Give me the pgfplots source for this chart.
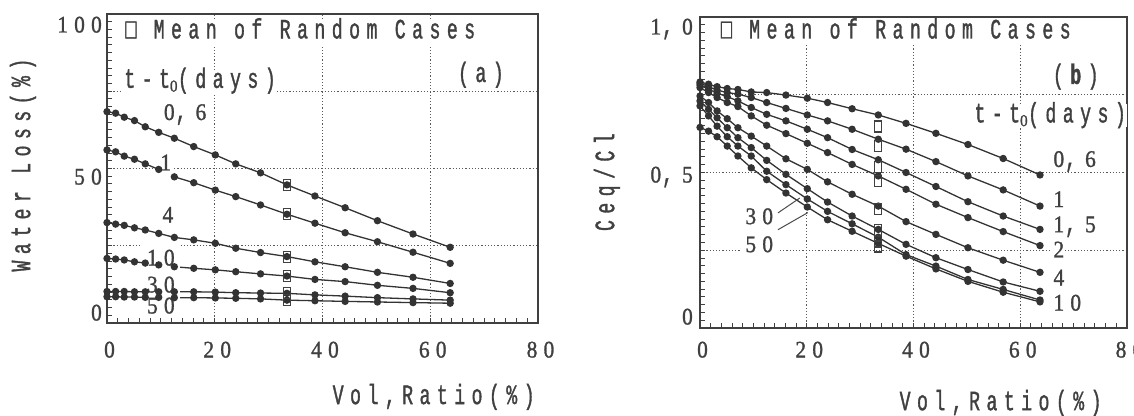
\documentclass[border=0pt]{standalone}
\usepackage{fontspec}
\setmainfont{Liberation Mono}[FakeStretch=0.65,LetterSpace=23,FakeBold=1.2]
\newfontfamily\dg{Liberation Serif}[FakeStretch=0.9,LetterSpace=26,FakeBold=1.2,Scale=0.85]
\usepackage{pgfplots}
\usepackage{pgfplotstable}
\pgfplotsset{compat=1.18}
\newcommand\pf{\fontsize{28bp}{32bp}\selectfont}
\newcommand\cm{\kern1bp{\rmfamily,}\kern9bp}

% (a) water loss (%) against vol. ratio (%)
\pgfplotstableread{
x     s06   s1    s4    s10   s30   s50
0     68.4  56.0  32.5  20.9  10.2  8.5
1.6   67.9  55.4  32.0  20.7  10.2  8.5
3.2   66.6  54.0  31.6  20.4  10.2  8.4
5.1   65.5  53.0  30.8  19.8  10.1  8.4
7.1   63.5  51.5  30.1  19.4  10.1  8.3
9.6   61.7  49.7  29.0  18.8  10.1  8.3
12.5  59.8  47.3  27.7  18.2  10.1  8.2
16.1  57.1  45.4  26.9  17.7  10.1  8.2
20.1  54.4  43.0  25.8  17.2  10.0  8.1
23.9  51.5  40.9  24.2  16.6  9.8   8.0
28.5  48.6  38.2  22.8  15.9  9.7   7.8
33.4  44.7  35.2  21.5  15.2  9.6   7.4
38.6  41.1  32.3  19.8  14.1  9.1   7.2
44.2  37.3  29.2  18.2  13.4  8.7   7.0
50.2  33.1  26.3  16.4  12.2  8.2   6.8
56.8  28.8  22.9  14.8  11.2  7.8   6.6
63.7  24.5  19.3  12.8  9.8   7.4   6.4
}\dataA
\pgfplotstableread{
x     m
33.4  44.7
33.4  35.2
33.4  21.5
33.4  15.2
33.4  9.6
33.4  7.4
}\meanA

% (b) Ceq/Cl against vol. ratio (%)
\pgfplotstableread{
x     s06    s1     s15    s2     s4     s10    s30    s50
0     0.791  0.787  0.781  0.773  0.746  0.730  0.714  0.645
1.6   0.784  0.776  0.768  0.757  0.725  0.703  0.682  0.633
3.2   0.776  0.765  0.755  0.741  0.698  0.676  0.649  0.615
5.1   0.770  0.757  0.744  0.725  0.673  0.644  0.615  0.585
7.1   0.767  0.752  0.730  0.712  0.644  0.612  0.585  0.553
9.6   0.759  0.741  0.709  0.682  0.617  0.580  0.553  0.515
12.5  0.757  0.725  0.687  0.652  0.585  0.539  0.504  0.477
16.1  0.749  0.706  0.666  0.625  0.544  0.494  0.461  0.434
20.1  0.739  0.685  0.639  0.594  0.510  0.448  0.415  0.389
23.9  0.725  0.666  0.612  0.564  0.470  0.405  0.375  0.348
28.5  0.705  0.639  0.574  0.526  0.430  0.360  0.335  0.311
33.4  0.685  0.607  0.541  0.489  0.392  0.317  0.292  0.272
38.6  0.658  0.575  0.500  0.446  0.342  0.269  0.236  0.231
44.2  0.626  0.535  0.455  0.398  0.301  0.226  0.199  0.190
50.2  0.590  0.489  0.406  0.355  0.258  0.188  0.156  0.150
56.8  0.545  0.444  0.360  0.310  0.218  0.148  0.124  0.115
63.7  0.492  0.392  0.317  0.265  0.179  0.118  0.090  0.084
}\dataB
\pgfplotstableread{
x     m
33.4  0.648
33.4  0.585
33.4  0.518
33.4  0.474
33.4  0.384
33.4  0.316
33.4  0.278
33.4  0.262
}\meanB

\pgfplotsset{
  panel/.style={
    scale only axis, clip=false,
    xmin=0, xmax=80, xtick={0,20,40,60,80}, xticklabels={0,20,40,60,80},
    minor x tick num=9, minor y tick num=9,
    tick align=inside, xtick pos=left, ytick pos=left,
    major tick length=4.5bp, minor tick length=4.5bp,
    tick style={black!75, line width=1bp},
    axis line style={black!75, line width=1.5bp},
    xmajorgrids, ymajorgrids,
    major grid style={black!65, line width=1.1bp, dash pattern=on 1.2bp off 2bp},
    ticklabel style={font=\pf\dg, text=black!75, inner sep=0pt},
    xticklabel style={anchor=base, xshift=2.5bp},
    yticklabel style={anchor=east},
    label style={font=\pf, text=black!75},
  },
  ser/.style={black!80, line width=1.3bp, mark=*, mark size=3bp,
    mark options={solid, fill=black!80}},
  sq/.style={only marks, mark=square, mark size=5.5bp,
    mark options={black!75, line width=1.1bp, xscale=0.64}},
}
\tikzset{
  lab/.style={font=\pf, text=black!75, fill=white, inner xsep=1bp, inner ysep=2bp,
    text height=16bp, text depth=3bp},
  rlab/.style={lab, anchor=base west, inner ysep=1bp, text height=15bp, text depth=1bp},
}

\begin{document}
\begin{tikzpicture}
\path[use as bounding box] (0,0) rectangle (1134bp,416bp);

\begin{axis}[panel, at={(107bp,93bp)}, anchor=south west,
  width=431bp, height=309bp,
  ymin=0, ymax=100, ytick={0,25,50,75,100},
  yticklabels={\raisebox{10bp}[15bp][0bp]{0},,\raisebox{-8.5bp}[15bp][0bp]{50},,\raisebox{-11bp}[15bp][0bp]{100}},
  yticklabel style={xshift=-5bp},
  xticklabel style={yshift=-34.5bp},
  xlabel={Vol,Ratio(\%)}, ylabel={Water Loss(\%)},
  xlabel style={at={(axis description cs:0.758,-0.239)}, anchor=center},
  ylabel style={at={(axis description cs:-0.195,0.511)}, anchor=center},
]
\addplot[ser] table[x=x,y=s06]{\dataA};
\addplot[ser] table[x=x,y=s1]{\dataA};
\addplot[ser] table[x=x,y=s4]{\dataA};
\addplot[ser] table[x=x,y=s10]{\dataA};
\addplot[ser] table[x=x,y=s30]{\dataA};
\addplot[ser] table[x=x,y=s50]{\dataA};
\addplot[sq] table[x=x,y=m]{\meanA};

\node[lab, anchor=base west, text depth=4bp, inner ysep=3bp] at (axis cs:3.2,92.1) {□ Mean of Random Cases};
\node[lab, anchor=base west] at (axis cs:3.0,76.1) {t-t\textsubscript{\dg 0}(days)};
\node[lab, anchor=base] at (axis cs:69.4,78.0) {(a)};
\node[lab, anchor=base] at (axis cs:14.5,65.7) {\dg 0\cm6};
\node[lab, anchor=base, minimum width=17bp, minimum height=26bp] at (axis cs:10.9,49.4) {\dg 1};
\node[lab, anchor=base] at (axis cs:11.3,32.5) {\dg 4};
\node[lab, anchor=base, minimum width=38bp, minimum height=30bp] at (axis cs:10.0,18.6) {\dg 10};
\node[lab, anchor=base, text height=15bp, text depth=1bp, minimum width=38bp, minimum height=21bp] at (axis cs:10.0,9.9) {\dg 30};
\node[lab, anchor=base, text height=15bp, text depth=1bp, minimum width=38bp, minimum height=20bp] at (axis cs:10.0,3.1) {\dg 50};
\end{axis}

\begin{axis}[panel, at={(700bp,88bp)}, anchor=south west,
  width=427bp, height=311bp,
  ymin=0, ymax=1, ytick={0,0.25,0.5,0.75,1},
  yticklabels={\raisebox{11bp}[15bp][0bp]{0},,\raisebox{-2.5bp}[15bp][0bp]{0\cm5},,\raisebox{-10bp}[15bp][0bp]{1\cm0}},
  yticklabel style={xshift=-7bp},
  xticklabel style={yshift=-29.5bp},
  xlabel={Vol,Ratio(\%)}, ylabel={Ceq/Cl},
  xlabel style={at={(axis description cs:0.704,-0.241)}, anchor=center},
  ylabel style={at={(axis description cs:-0.218,0.469)}, anchor=center},
]
\addplot[ser] table[x=x,y=s06]{\dataB};
\addplot[ser] table[x=x,y=s1]{\dataB};
\addplot[ser] table[x=x,y=s15]{\dataB};
\addplot[ser] table[x=x,y=s2]{\dataB};
\addplot[ser] table[x=x,y=s4]{\dataB};
\addplot[ser] table[x=x,y=s10]{\dataB};
\addplot[ser] table[x=x,y=s30]{\dataB};
\addplot[ser] table[x=x,y=s50]{\dataB};
\addplot[sq] table[x=x,y=m]{\meanB};

\node[lab, anchor=base west, text depth=4bp, inner ysep=3bp] at (axis cs:3.7,0.931) {□ Mean of Random Cases};
\node[lab, anchor=base] at (axis cs:70.4,0.785) {(\textbf{b})};
\node[lab, anchor=base west] at (axis cs:51.2,0.661) {t-t\textsubscript{\dg 0}(days)};
\node[rlab] at (axis cs:66.0,0.518) {\dg 0\cm6};
\node[rlab] at (axis cs:66.0,0.389) {\dg 1};
\node[rlab] at (axis cs:66.0,0.308) {\dg 1\cm5};
\node[rlab] at (axis cs:66.0,0.227) {\dg 2};
\node[rlab] at (axis cs:66.0,0.137) {\dg 4};
\node[rlab] at (axis cs:66.0,0.056) {\dg 10};
\draw[black!70, line width=1bp] (axis cs:14.6,0.370) -- (axis cs:18.7,0.418);
\draw[black!70, line width=1bp] (axis cs:14.6,0.316) -- (axis cs:20.2,0.371);
\node[lab, anchor=base, inner ysep=1bp] at (axis cs:11.1,0.334) {\dg 30};
\node[lab, anchor=base, minimum width=37bp, minimum height=22bp] at (axis cs:11.1,0.244) {\dg 50};
\end{axis}
\end{tikzpicture}
\end{document}
